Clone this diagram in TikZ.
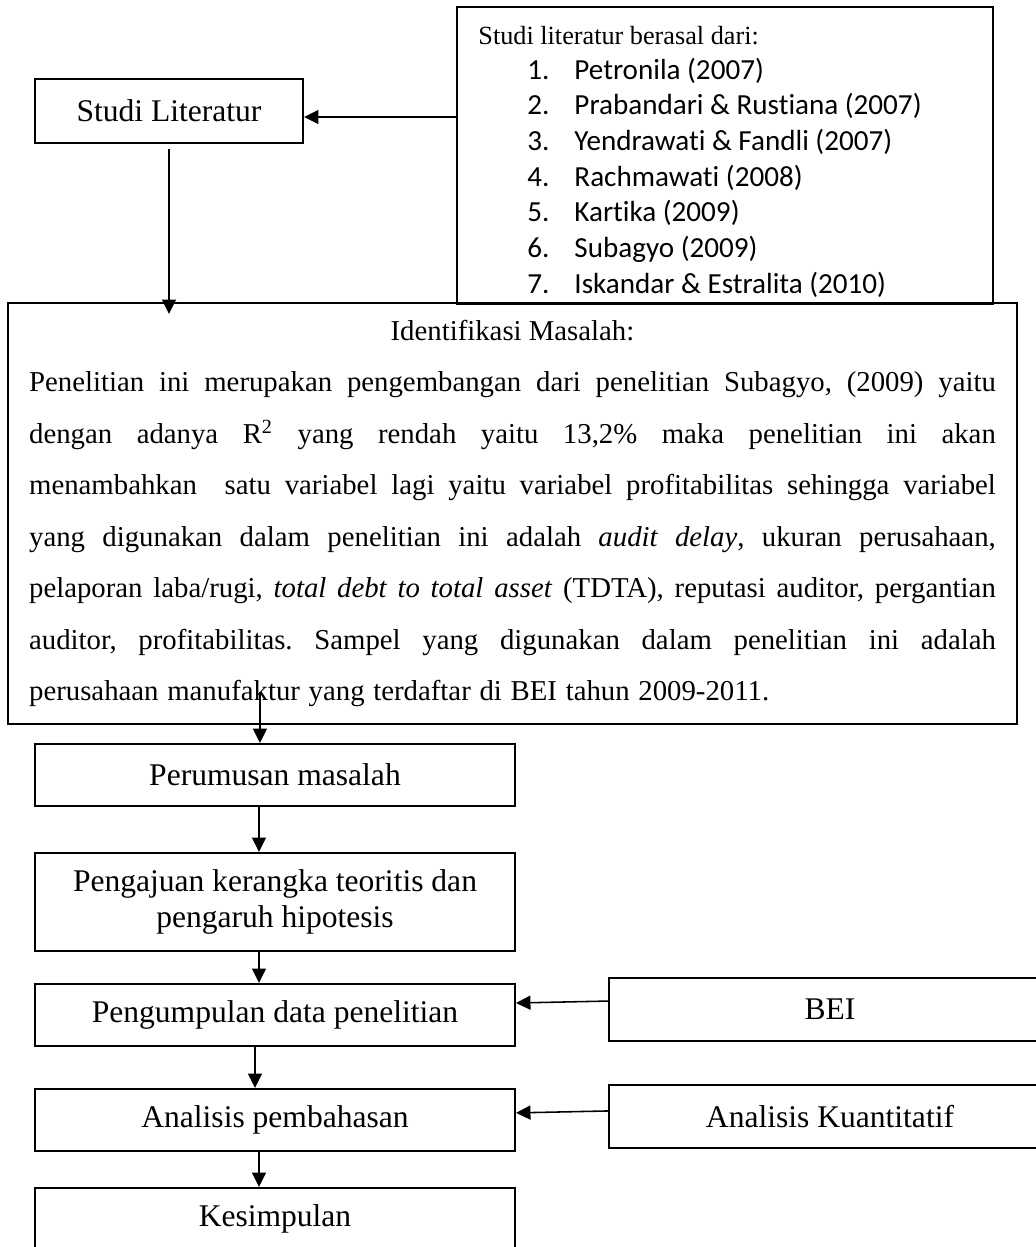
\documentclass[tikz,border=0pt]{standalone}
\usepackage{fontspec}
\setmainfont{Liberation Serif}
\newfontfamily\calibri[Ligatures=NoCommon]{Carlito}
\usepackage{tikz}
\usetikzlibrary{arrows.meta}
\usepackage{xcolor}
\definecolor{flowInk}{HTML}{000000}
\newcommand\pxu{0.45pt}
\newcommand\identw{435pt}
\newcommand\justline[1]{\leavevmode\hbox to \identw{#1}}

\begin{document}
\begin{tikzpicture}[x=0.45pt, y=-0.45pt,
            font=\fontsize{14.2}{16.2}\selectfont,
            flowbox/.style={
              rectangle, draw=flowInk, line width=0.9pt,
              minimum width=480*\pxu, minimum height=62*\pxu,
              inner sep=2pt, align=center
            },
            sidebox/.style={
              flowbox, minimum width=442*\pxu, minimum height=63*\pxu
            },
            listtext/.style={
              anchor=base west, inner sep=0pt,
              font=\calibri\fontsize{13.1}{16}\selectfont
            },
            arrowline/.style={
              draw=flowInk, line width=0.7pt,
              -{Triangle[length=6.5pt, width=6.3pt]}
            }
          ]
          \path[use as bounding box, fill=white] (0,0) rectangle (1035,1247);

          % Caja de referencias (arriba a la derecha)
          \node[rectangle, draw=flowInk, line width=0.9pt,
            minimum width=536*\pxu, minimum height=297*\pxu] (litlist) at (725,155.5) {};
          \node[anchor=base west, inner sep=0pt, font=\fontsize{11.8}{14}\selectfont]
            (lithead) at (478,45) {Studi literatur berasal dari:};
          \foreach \name [count=\i] in {Petronila (2007), Prabandari \& Rustiana (2007),
              Yendrawati \& Fandli (2007), Rachmawati (2008), Kartika (2009),
              Subagyo (2009), Iskandar \& Estralita (2010)} {
            \node[listtext] (num\i) at (527, {79+35.7*(\i-1)}) {\i.};
            \node[listtext] (ref\i) at (574, {79+35.7*(\i-1)}) {\name};
          }

          \node[flowbox, minimum width=268*\pxu, minimum height=64*\pxu]
            (studi) at (169,111) {Studi Literatur};

          % Identifikasi masalah
          \node[rectangle, draw=flowInk, line width=0.9pt,
            minimum width=1009*\pxu, minimum height=421*\pxu,
            text width=\identw, align=left,
            font=\fontsize{12.95}{23.2}\selectfont] (ident) at (512.5,513.5) {%
            \frenchspacing\spaceskip=0.25em plus 3em minus 0.05em
            \justline{\hss Identifikasi Masalah:\hss}\\
            \justline{Penelitian ini merupakan pengembangan dari penelitian Subagyo, (2009) yaitu}\\
            \justline{dengan adanya R\textsuperscript{2} yang rendah yaitu 13,2\% maka penelitian ini akan}\\
            \justline{menambahkan\ \ satu variabel lagi yaitu variabel profitabilitas sehingga variabel}\\
            \justline{yang digunakan dalam penelitian ini adalah \textit{audit delay}, ukuran perusahaan,}\\
            \justline{pelaporan laba/rugi, \textit{total debt to total asset} (TDTA), reputasi auditor, pergantian}\\
            \justline{auditor, profitabilitas. Sampel yang digunakan dalam penelitian ini adalah}\\
            \leavevmode\hbox to 333pt{perusahaan manufaktur yang terdaftar di BEI tahun 2009-2011.}};

          % Alur penelitian
          \node[flowbox] (rumus) at (275,775) {Perumusan masalah};
          \node[flowbox, minimum height=98*\pxu] (ajuan) at (275,902)
            {Pengajuan kerangka teoritis dan\\ pengaruh hipotesis};
          \node[flowbox] (kumpul) at (275,1015) {Pengumpulan data penelitian};
          \node[flowbox] (analisis) at (275,1120) {Analisis pembahasan};
          \node[flowbox] (simpul) at (275,1219) {Kesimpulan};

          % Sumber data dan metode
          \node[sidebox] (bei) at (830,1009.5) {BEI};
          \node[sidebox] (kuant) at (830,1116.5) {Analisis Kuantitatif};

          % Panah
          \path ([yshift=-2.7pt]studi.east) coordinate (studiin);
          \draw[arrowline] (studiin -| litlist.west) -- (studiin);
          \draw[arrowline, shorten <=2.2pt, shorten >=-5.4pt]
            (studi.south) -- (studi.south |- ident.north);
          \path ([xshift=-6.8pt]rumus.north) coordinate (rumusin);
          \draw[arrowline, shorten <=-15pt] (rumusin |- ident.south) -- (rumusin);
          \draw[arrowline] ([xshift=-7.2pt]rumus.south) -- ([xshift=-7.2pt]ajuan.north);
          \draw[arrowline] ([xshift=-7.2pt]ajuan.south) -- ([xshift=-7.2pt]kumpul.north);
          \draw[arrowline] ([xshift=-9pt]kumpul.south) -- ([xshift=-9pt]analisis.north);
          \draw[arrowline] ([xshift=-7.2pt]analisis.south) -- ([xshift=-7.2pt]simpul.north);
          \draw[arrowline] ([yshift=3.8pt]bei.west) -- ([yshift=5.4pt]kumpul.east);
          \draw[arrowline] ([yshift=2.5pt]kuant.west) -- ([yshift=3.2pt]analisis.east);
        \end{tikzpicture}
\end{document}
